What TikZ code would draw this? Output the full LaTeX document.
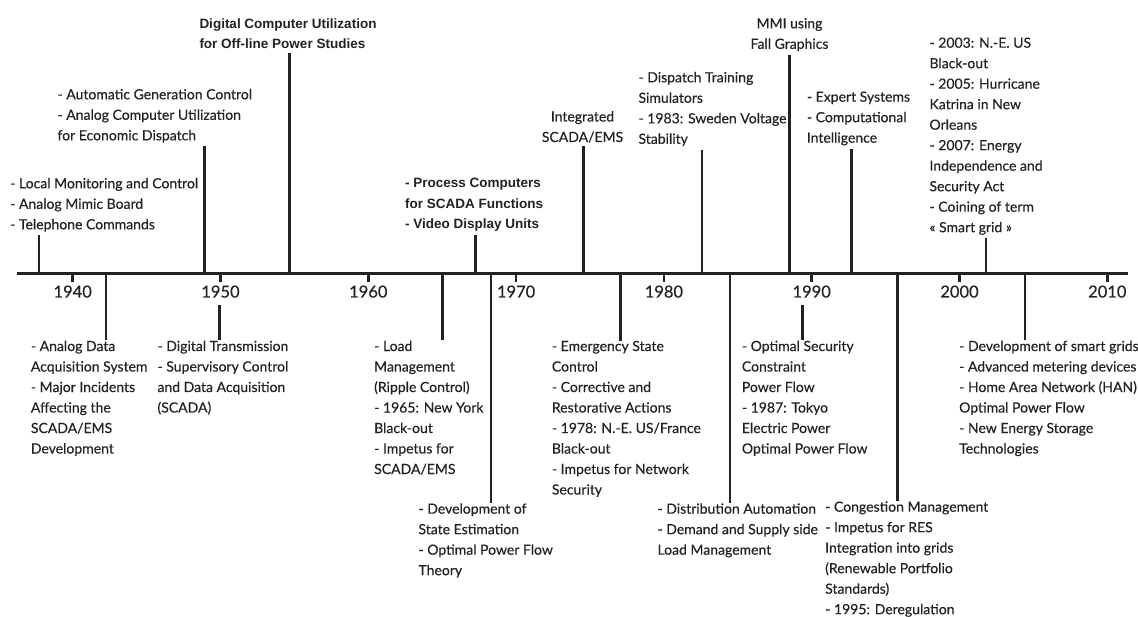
\documentclass[tikz,border=0pt]{standalone}
\usepackage{fontspec}
\setmainfont{Lato}[FakeBold=0.35]
\newfontfamily\headfont{Liberation Sans}
\usepackage{tikz}
\usetikzlibrary{positioning,calc}
\definecolor{ink}{HTML}{222222}

\begin{document}
\begin{tikzpicture}[
    x=1pt, y=-1pt,
    every node/.style={inner sep=0pt, text=ink},
    % nodes are placed at the baseline of their last line
    evt/.style={align=left, anchor=base west, font=\fontsize{14}{20.5}\selectfont},
    evtc/.style={evt, align=center, anchor=base},
    hevt/.style={evt, font=\fontsize{13.5}{20.5}\selectfont\headfont\bfseries},
    yearlbl/.style={anchor=base, font=\fontsize{16.5}{20}\selectfont},
    stem/.style={line width=2.7pt, draw=ink},
    stemup/.style={stem, shorten >=3.5pt}
]
\useasboundingbox (0,0) rectangle (1138,617);

% time axis
\coordinate (start) at (17,274);
\coordinate (end) at (1128,274);
\draw[stem, line width=3pt] (start) -- (end);

\foreach \yr [count=\i from 0] in {1940,1950,...,2010} {
    \node[yearlbl] (y\yr) at (72.7+\i*147.8,297.5) {\yr};
    \draw[stem, shorten >=3pt] (72.7+\i*147.8,274) -- (y\yr.north);
}

% events above the axis
\node[evt] (local) at (10,229.3) {- Local Monitoring and Control\\- Analog Mimic Board\\- Telephone Commands};
\node[evt] (agc) at (57.3,140.3) {- Automatic Generation Control\\- Analog Computer Utilization\\for Economic Dispatch};
\node[hevt] (digital) at (199.3,48.8) {Digital Computer Utilization\\for Off-line Power Studies};
\node[hevt] (process) at (405,229) {- Process Computers\\for SCADA Functions\\- Video Display Units};
\node[evtc] (integ) at (582.5,142) {Integrated\\SCADA/EMS};
\node[evt] (dts) at (638.3,143.8) {- Dispatch Training\\Simulators\\- 1983: Sweden Voltage\\Stability};
\node[evtc] (mmi) at (789.5,48.8) {MMI using\\Fall Graphics};
\node[evt] (expert) at (806.7,142.7) {- Expert Systems\\- Computational\\Intelligence};
\node[evt] (blackout) at (929.3,232.2) {- 2003: N.-E. US\\Black-out\\- 2005: Hurricane\\Katrina in New\\Orleans\\- 2007: Energy\\Independence and\\Security Act\\- Coining of term\\« Smart grid »};

\coordinate (a-local) at (39,274);
\coordinate (a-agc) at (204.3,274);
\coordinate (a-digital) at (289.3,274);
\coordinate (a-process) at (475.7,274);
\coordinate (a-integ) at (583.3,274);
\coordinate (a-dts) at (702,274);
\coordinate (a-mmi) at (789.3,274);
\coordinate (a-expert) at (851.7,274);
\coordinate (a-blackout) at (986,274);
\foreach \ev in {local,agc,digital,process,integ,dts,mmi,expert,blackout}
    \draw[stemup] (a-\ev) -- (a-\ev |- \ev.south);

% events below the axis
\node[evt] (analog) at (30.7,453.5) {- Analog Data\\Acquisition System\\- Major Incidents\\Affecting the\\SCADA/EMS\\Development};
\node[evt] (scada) at (157.3,412.5) {- Digital Transmission\\- Supervisory Control\\and Data Acquisition\\(SCADA)};
\node[evt] (load) at (374,474) {- Load\\Management\\(Ripple Control)\\- 1965: New York\\Black-out\\- Impetus for\\SCADA/EMS};
\node[evt] (stateest) at (418.3,575.2) {- Development of\\State Estimation\\- Optimal Power Flow\\Theory};
\node[evt] (emerg) at (551.7,494.5) {- Emergency State\\Control\\- Corrective and\\Restorative Actions\\- 1978: N.-E. US/France\\Black-out\\- Impetus for Network\\Security};
\node[evt] (distrib) at (657.3,554.7) {- Distribution Automation\\- Demand and Supply side\\Load Management};
\node[evt] (opsec) at (741.7,453.5) {- Optimal Security\\Constraint\\Power Flow\\- 1987: Tokyo\\Electric Power\\Optimal Power Flow};
\node[evt] (congest) at (825,614.2) {- Congestion Management\\- Impetus for RES\\Integration into grids\\(Renewable Portfolio\\Standards)\\- 1995: Deregulation};
\node[evt] (smart) at (959,453.5) {- Development of smart grids\\- Advanced metering devices\\- Home Area Network (HAN)\\Optimal Power Flow\\- New Energy Storage\\Technologies};

\coordinate (a-analog) at (106,274);
\coordinate (a-scada) at (219.3,305);
\coordinate (a-load) at (442.7,274);
\coordinate (a-stateest) at (491,274);
\coordinate (a-emerg) at (620.3,274);
\coordinate (a-distrib) at (730,274);
\coordinate (a-opsec) at (802.7,305);
\coordinate (a-congest) at (897.7,274);
\coordinate (a-smart) at (1025,274);
\foreach \ev in {analog,scada,load,stateest,emerg,distrib,opsec,congest,smart}
    \draw[stem] (a-\ev) -- (a-\ev |- \ev.north);
\end{tikzpicture}
\end{document}
